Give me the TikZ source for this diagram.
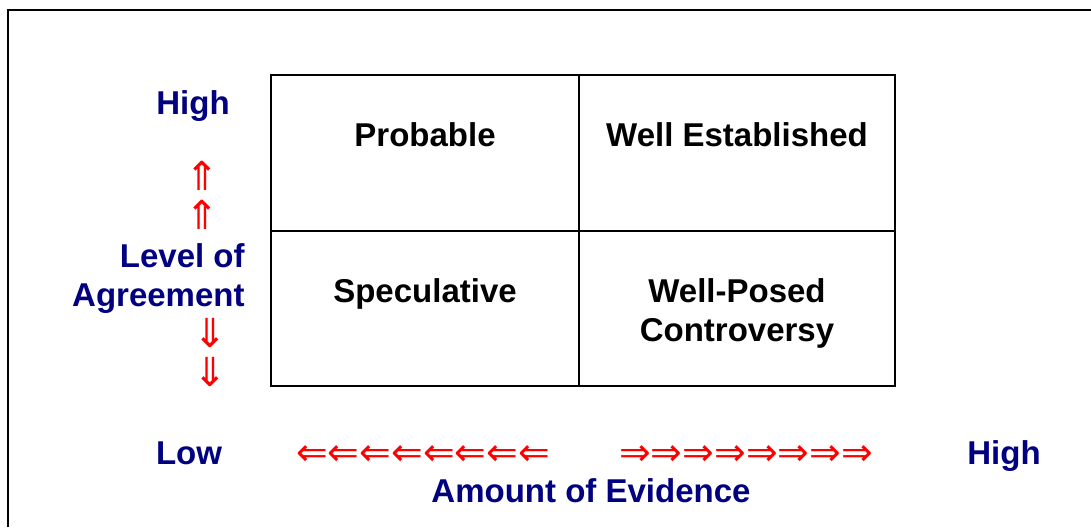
\documentclass[tikz,border=0pt]{standalone}
\usepackage{fontspec}
\setmainfont{Liberation Sans}
\newfontfamily\arrowfont{DejaVu Sans}
\usetikzlibrary{positioning}
\definecolor{axisblue}{RGB}{0,0,128}
\definecolor{arrowred}{RGB}{255,0,0}

\begin{document}
\begin{tikzpicture}[x=0.5pt, y=-0.5pt,
        cell/.style={rectangle, draw, line width=1pt, inner sep=0pt, outer sep=0pt, anchor=north west},
        celltext/.style={font=\bfseries\fontsize{16.5}{19.5}\selectfont, align=center, inner sep=0pt},
        axistext/.style={font=\bfseries\fontsize{16.5}{19.5}\selectfont, text=axisblue, inner sep=0pt},
        arrowtext/.style={font=\arrowfont\fontsize{20}{20}\selectfont, text=arrowred, inner sep=0pt}
    ]
    \useasboundingbox (0,0) rectangle (1091,527);

    % Frame
    \coordinate (frame-bl) at (8,527);
    \coordinate (frame-tr) at (1091,10);
    \draw[line width=1pt] (frame-bl) |- (frame-tr);

    % Grid of cells
    \node[cell, minimum width=154pt, minimum height=78pt] (pr) at (271,75) {};
    \node[cell, minimum width=158pt, minimum height=78pt, right=0pt of pr] (we) {};
    \node[cell, minimum width=154pt, minimum height=77.5pt, below=0pt of pr] (sp) {};
    \node[cell, minimum width=158pt, minimum height=77.5pt, below=0pt of we] (wp) {};

    % Cell labels
    \node[celltext, anchor=base] (pr-t) at ([yshift=-35.5pt]pr.north) {Probable};
    \node[celltext, anchor=base] (we-t) at ([yshift=-35.5pt]we.north) {Well Established};
    \node[celltext, anchor=base] (sp-t) at ([yshift=-35.5pt]sp.north) {Speculative};
    \node[celltext] (wp-t) at ([yshift=-41pt]wp.north) {Well-Posed\\Controversy};

    % Level of Agreement
    \node[axistext, anchor=base] (ag-hi) at (193,114) {High};
    \node[axistext, anchor=east, align=right] (ag) at (245,279) {Level of\\Agreement};
    \node[arrowtext] (up1) at (202,176) {⇑};
    \node[arrowtext] (up2) at (202,215) {⇑};
    \node[arrowtext] (dn1) at (210,333) {⇓};
    \node[arrowtext] (dn2) at (210,372) {⇓};

    % Amount of Evidence
    \node[arrowtext, font=\arrowfont\fontsize{18.9}{18.9}\selectfont] (lt) at (423,456) {⇐⇐⇐⇐⇐⇐⇐⇐};
    \node[arrowtext, font=\arrowfont\fontsize{18.9}{18.9}\selectfont] (rt) at (746,456) {⇒⇒⇒⇒⇒⇒⇒⇒};
    \node[axistext, anchor=base] (ev-lo) at (189,464) {Low};
    \node[axistext, anchor=base] (ev-hi) at (1004,464) {High};
    \node[axistext, anchor=base] (ev) at (591,502) {Amount of Evidence};

\end{tikzpicture}
\end{document}
